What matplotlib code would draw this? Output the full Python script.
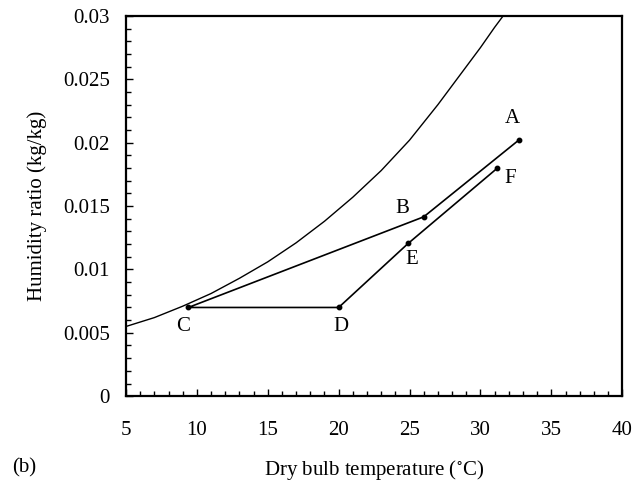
import matplotlib
matplotlib.use("Agg")
import matplotlib.pyplot as plt
from matplotlib.ticker import MultipleLocator

# saturation curve (dry bulb degC, humidity ratio kg/kg)
sat_t = [5, 7, 9, 11, 13, 15, 17, 19, 21, 23, 25, 27, 29, 30, 31, 31.6, 32.2]
sat_w = [0.0055, 0.0062, 0.0071, 0.0081, 0.0093, 0.0106, 0.0121, 0.0138, 0.0157,
         0.0178, 0.0202, 0.0230, 0.0260, 0.0275, 0.0291, 0.0300, 0.0310]

# process path A -> B -> C -> D -> E -> F
pt_names = ["A", "B", "C", "D", "E", "F"]
pt_t = [32.7, 26.0, 9.4, 20.0, 24.9, 31.2]
pt_w = [0.0202, 0.01415, 0.0070, 0.0070, 0.01205, 0.0180]

# label offsets in points
LBL_OFF = {"A": (-4.5, 15.5), "B": (-15.5, 6), "C": (-3.5, -14), "D": (2, -14),
           "E": (2.5, -11.5), "F": (9.5, -7.5)}

FS = 15
plt.rcParams.update({
    "font.family": ["Liberation Serif", "DejaVu Serif"],
    "font.size": FS,
    "mathtext.fontset": "stix",
})

fig = plt.figure(figsize=(6.33, 4.82), dpi=100)
ax = fig.add_axes([0.199, 0.178, 0.784, 0.789])

ax.plot(sat_t, sat_w, color="black", lw=1.0)
ax.plot(pt_t, pt_w, color="black", lw=1.2, marker="o", ms=3.2)
for nm, t, w in zip(pt_names, pt_t, pt_w):
    ax.annotate(nm, (t, w), xytext=LBL_OFF[nm], textcoords="offset points",
                ha="center", va="center", fontsize=FS)

ax.set_xlim(5, 40)
ax.set_ylim(0, 0.03)
ax.xaxis.set_major_locator(MultipleLocator(5))
ax.xaxis.set_minor_locator(MultipleLocator(1))
ax.yaxis.set_major_locator(MultipleLocator(0.005))
ax.yaxis.set_minor_locator(MultipleLocator(0.001))
ax.yaxis.set_major_formatter(plt.FuncFormatter(
    lambda v, p: f"{v:.3f}".rstrip("0").rstrip(".") if abs(v) > 1e-9 else "0"))

for sp in ax.spines.values():
    sp.set_linewidth(1.6)
ax.tick_params(which="both", direction="in", top=False, right=False, width=1.0)
ax.tick_params(which="major", length=5, labelsize=FS)
ax.tick_params(which="minor", length=3.5)
ax.tick_params(axis="y", which="major", pad=11.5)
ax.tick_params(axis="x", which="major", pad=18)

ax.set_xlabel("Dry bulb temperature ($^{\\circ}$C)", fontsize=FS, labelpad=13)
ax.set_ylabel("Humidity ratio (kg/kg)", fontsize=FS, labelpad=11.5)
fig.text(0.019, 0.029, "(b)", fontsize=FS, va="center")

fig.savefig("out.png", dpi=100)
